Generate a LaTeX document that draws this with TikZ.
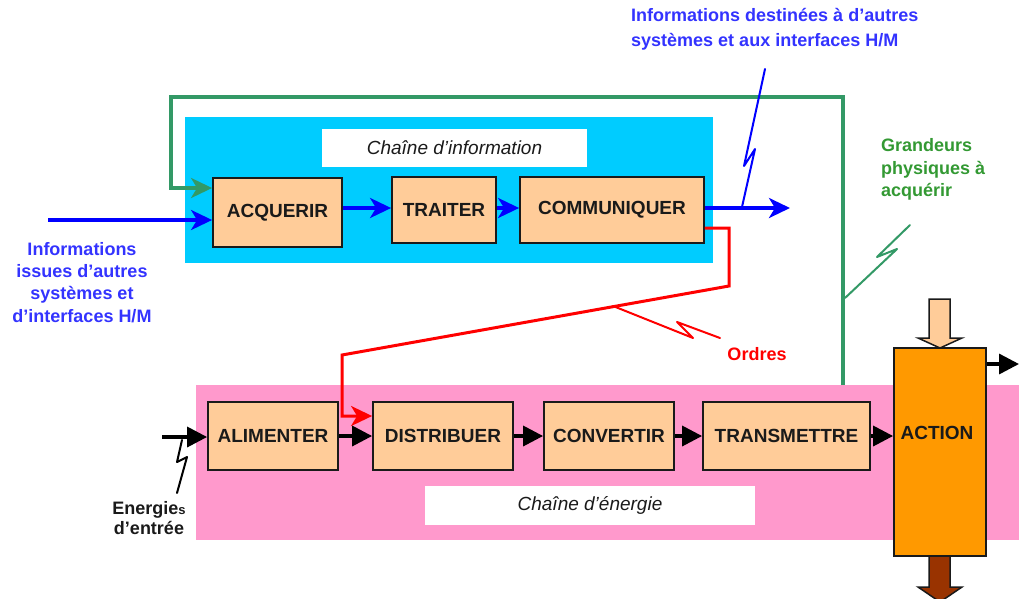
\documentclass[tikz,border=0pt]{standalone}
\usepackage{fontspec}
\setmainfont{Liberation Sans}
\usetikzlibrary{arrows.meta}
\definecolor{cyanbg}{HTML}{00CCFF}
\definecolor{pinkbg}{HTML}{FF99CC}
\definecolor{peach}{HTML}{FFCC99}
\definecolor{orangeact}{HTML}{FF9900}
\definecolor{brownarr}{HTML}{993300}
\definecolor{gline}{HTML}{339966}
\definecolor{gtext}{HTML}{339933}
\definecolor{btext}{HTML}{3333FF}
\definecolor{dark}{HTML}{1A1A1A}
\tikzset{
  box/.style={draw=dark, line width=1.8pt, fill=peach, inner sep=0pt,
    font=\fontsize{19}{22}\selectfont\bfseries, text=dark},
  lab/.style={fill=white, inner sep=0pt, font=\fontsize{19}{22}\selectfont\itshape, text=dark},
  bluearr/.style={draw=blue, line width=3.4pt, -{Stealth[length=21pt,width=20pt,inset=6pt]}},
  greenarr/.style={draw=gline, line width=3.4pt, -{Stealth[length=21pt,width=20pt,inset=6pt]}},
  redarr/.style={draw=red, line width=3pt, -{Stealth[length=21pt,width=20pt,inset=6pt]}},
  blackarr/.style={draw=black, line width=3.4pt, -{Triangle[length=20pt,width=20pt]}},
  bolt/.style={line width=2pt, line join=round, line cap=round},
  txt/.style={inner sep=0pt, font=\fontsize{18}{22.3}\selectfont\bfseries},
}
\begin{document}
\begin{tikzpicture}[x=1pt,y=-1pt]
\useasboundingbox (0,0) rectangle (1019,598);
\clip (0,0) rectangle (1019,598);
% backgrounds
\fill[cyanbg] (185,117) rectangle (713,263);
\fill[pinkbg] (196,385) rectangle (1019,540);
\node[lab, minimum width=265pt, minimum height=38pt] (labinfo) at (454.5,148) {Chaîne d’information};
\node[lab, minimum width=330pt, minimum height=39pt] (labener) at (590,505.5) {Chaîne d’énergie};
% information chain boxes
\node[box, minimum width=129pt, minimum height=69pt] (acq) at (277.5,212.5) {ACQUERIR};
\node[box, minimum width=104pt, minimum height=66pt] (tra) at (444,210) {TRAITER};
\node[box, minimum width=184pt, minimum height=66pt] (com) at (612,210) {COMMUNIQUER};
% energy chain boxes
\node[box, minimum width=130pt, minimum height=68pt] (ali) at (273,436) {ALIMENTER};
\node[box, minimum width=140pt, minimum height=68pt] (dis) at (443,436) {DISTRIBUER};
\node[box, minimum width=130pt, minimum height=68pt] (con) at (609,436) {CONVERTIR};
\node[box, minimum width=167pt, minimum height=68pt] (trm) at (786.5,436) {TRANSMETTRE};
% action block arrows
\filldraw[fill=peach, draw=dark, line width=1.5pt, line join=miter] (929,299) -- (950,299) -- (950,338) -- (962,338) -- (940,348) -- (918,338) -- (929,338) -- cycle;
\filldraw[fill=brownarr, draw=dark, line width=1.5pt, line join=miter] (929,556) -- (950,556) -- (950,587) -- (962,587) -- (940,602) -- (918,587) -- (929,587) -- cycle;
\node[box, fill=orangeact, minimum width=92pt, minimum height=208pt] (act) at (940,452) {};
\node[txt, text=dark, font=\fontsize{19}{22}\selectfont\bfseries] (acttxt) at (937,433) {ACTION};
% coordinates
\coordinate (bin) at (48,220);
\coordinate (bout) at (790,208);
\coordinate (gbot) at (843,385);
\coordinate (gtr) at (843,97);
\coordinate (gtl) at (171,97);
\coordinate (gin) at (171,188);
\coordinate (r1) at (729,228);
\coordinate (r2) at (729,286);
\coordinate (r3) at (342,355);
\coordinate (r4) at (342,416);
\coordinate (ein) at (162,437);
\coordinate (aout) at (1019,364);
\coordinate (bmid) at (0,208);
% blue arrows
\draw[bluearr] (bin) -- (acq.west |- bin);
\draw[bluearr] (acq.east |- bmid) -- (tra.west |- bmid);
\draw[bluearr] (tra.east |- bmid) -- (com.west |- bmid);
\draw[bluearr] (com.east |- bout) -- (bout);
% green loop
\draw[greenarr, line join=miter] (gbot) -- (gtr) -- (gtl) -- (gin) -- (acq.west |- gin);
% red orders
\draw[redarr, line join=miter] (com.east |- r1) -- (r1) -- (r2) -- (r3) -- (r4) -- (dis.west |- r4);
% black energy arrows
\draw[blackarr] (ein) -- (ali.west |- ein);
\draw[blackarr] (ali.east) -- (dis.west);
\draw[blackarr] (dis.east) -- (con.west);
\draw[blackarr] (con.east) -- (trm.west);
\draw[blackarr] (trm.east) -- (act.west |- trm.east);
\draw[blackarr] (act.east |- aout) -- (aout);
% lightning bolts
\draw[bolt, blue] (742,207) -- (755,149) -- (744,166) -- (765,69);
\draw[bolt, gline] (845,298) -- (897,249) -- (877,257) -- (910,225);
\draw[bolt, red] (613,306) -- (693,338) -- (677,322) -- (720,338);
\draw[bolt, black] (182,440) -- (177,462) -- (187,457) -- (177,493);
% texts
\node[txt, text=btext, align=center] (tin) at (82,282.5) {Informations\\issues d’autres\\systèmes et\\d’interfaces H/M};
\node[txt, text=btext, align=left, anchor=west, font=\fontsize{18}{25}\selectfont\bfseries] (tout) at (631,29.5) {Informations destinées à d’autres\\systèmes et aux interfaces H/M};
\node[txt, text=gtext, align=left, anchor=west, font=\fontsize{18}{22.5}\selectfont\bfseries] (tgr) at (881,169.5) {Grandeurs\\physiques à\\acquérir};
\node[txt, text=red] (tord) at (757,354) {Ordres};
\node[txt, text=dark, align=center, font=\fontsize{18}{20.5}\selectfont\bfseries] (tener) at (149,518) {Energie{\fontsize{13}{13}\selectfont s}\\d’entrée};
\end{tikzpicture}
\end{document}
